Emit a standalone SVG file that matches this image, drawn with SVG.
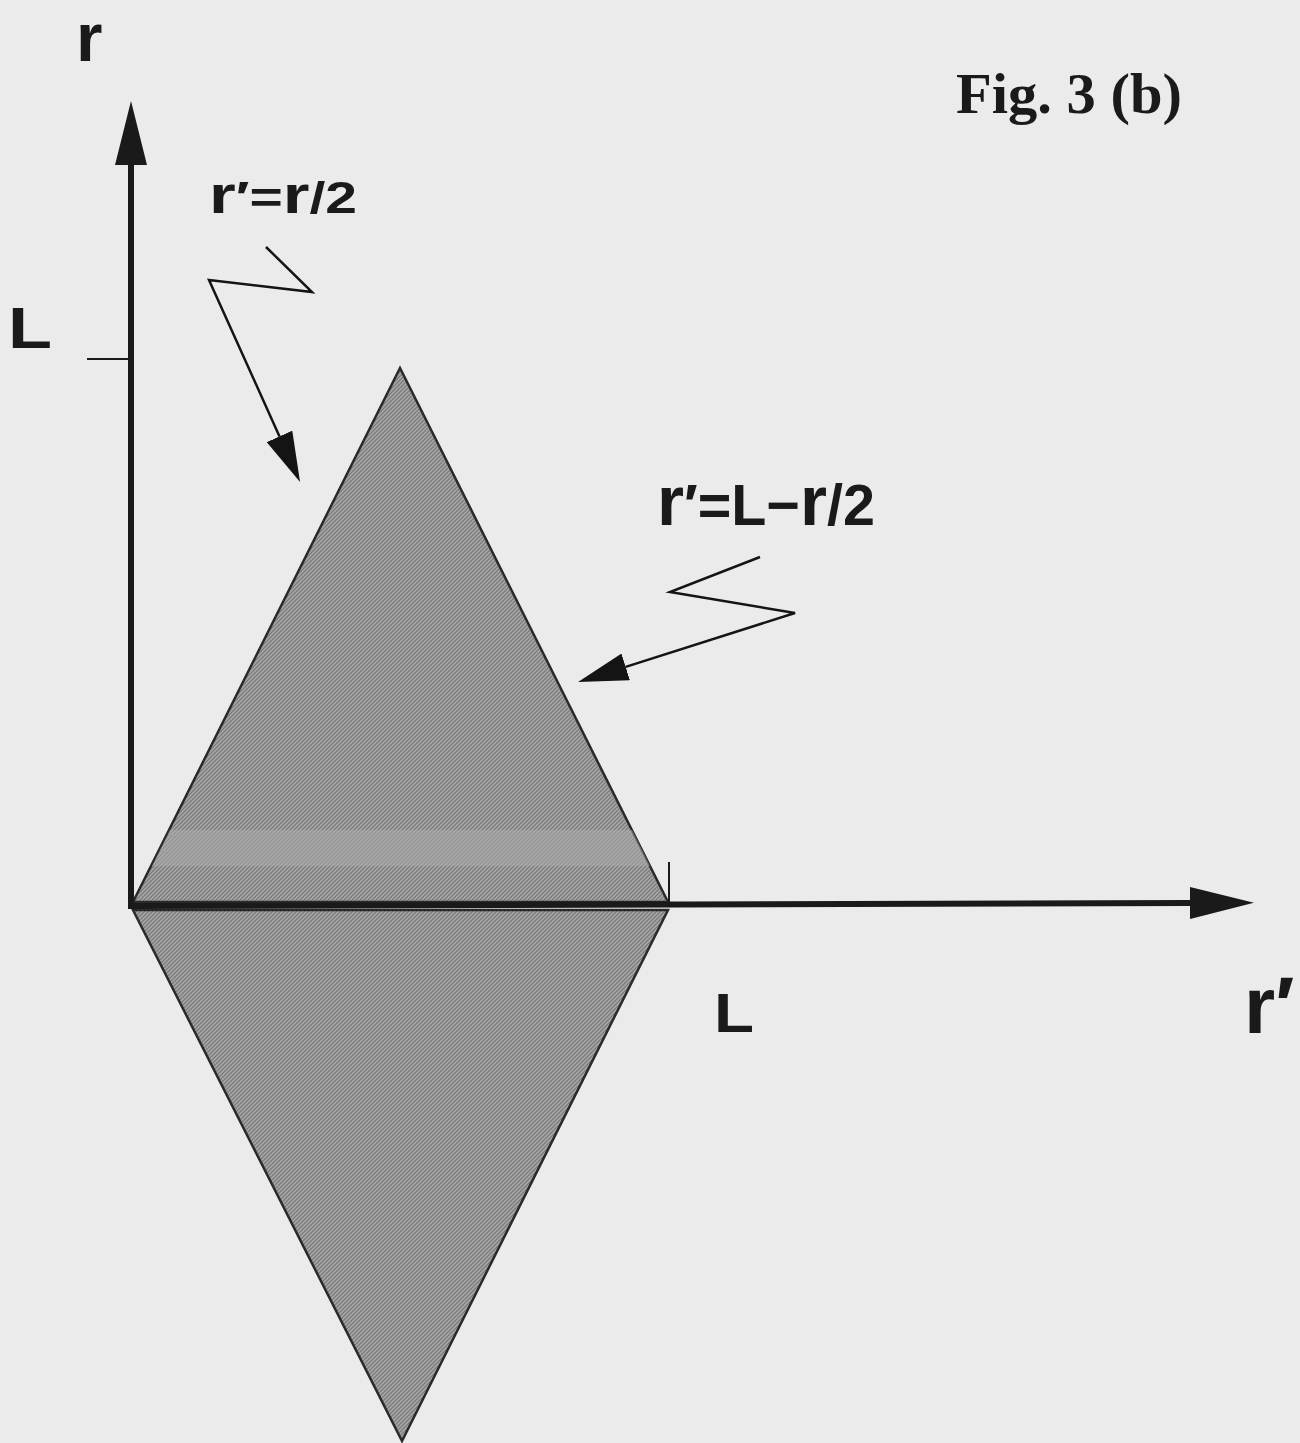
<svg xmlns="http://www.w3.org/2000/svg" width="1300" height="1443" viewBox="0 0 1300 1443">
<defs>
<style>
.bg{fill:#ebebeb}
.tri{fill:url(#hatch);stroke:#2a2a2a;stroke-width:2.5;stroke-linejoin:miter}
.axis{fill:none;stroke:#1a1a1a;stroke-width:6}
.tick{fill:none;stroke:#1a1a1a;stroke-width:2}
.ptr{fill:none;stroke:#141414;stroke-width:2.5;stroke-linejoin:miter}
.sans{font-family:"Liberation Sans",Arial,sans-serif;font-weight:bold;fill:#1a1a1a}
.serif{font-family:"Liberation Serif","Times New Roman",serif;font-weight:bold;fill:#1a1a1a}
</style>
<pattern id="hatch" width="4" height="4" patternUnits="userSpaceOnUse">
<rect width="4" height="4" fill="#a6a6a6"/>
<path d="M-1,1 L1,-1 M0,4 L4,0 M3,5 L5,3" stroke="#767676" stroke-width="1.2"/>
</pattern>
<marker id="axisHead" viewBox="0 0 64 32" refX="0" refY="16" markerWidth="64" markerHeight="32" markerUnits="userSpaceOnUse" orient="auto">
<path d="M0,0 L64,16 L0,32 z" fill="#1a1a1a"/>
</marker>
<marker id="ptrHead" viewBox="0 0 50 28" refX="0" refY="14" markerWidth="50" markerHeight="28" markerUnits="userSpaceOnUse" orient="auto">
<path d="M0,0 L50,14 L0,28 z" fill="#141414"/>
</marker>
</defs>
<rect class="bg" x="0" y="0" width="1300" height="1443"/>
<g id="region">
<polygon class="tri" points="400,368 668,902 133,902"/>
<polygon points="170,830 632,830 650,866 152,866" fill="#acacac" opacity="0.5"/>
<polygon class="tri" points="133,910 668,910 402,1441"/>
</g>
<g id="axes">
<line class="axis" x1="131" y1="908" x2="131" y2="165" marker-end="url(#axisHead)"/>
<line class="axis" x1="128" y1="906" x2="1190" y2="903" marker-end="url(#axisHead)"/>
<line class="tick" x1="87" y1="359" x2="131" y2="359"/>
<line class="tick" x1="669" y1="862" x2="669" y2="904"/>
</g>
<g id="connectors">
<polyline class="ptr" points="266,247 312,292 209,280 279.5,436.4" marker-end="url(#ptrHead)"/>
<polyline class="ptr" points="760,557 670,592 795,613 625.7,666.9" marker-end="url(#ptrHead)"/>
</g>
<g id="labels">
<text class="sans" x="76" y="61" font-size="68">r</text>
<text class="sans" x="8" y="348" font-size="57" textLength="44" lengthAdjust="spacingAndGlyphs">L</text>
<text class="sans" x="209" y="213" font-size="44" textLength="148" lengthAdjust="spacingAndGlyphs"><tspan font-size="53">r</tspan>′=<tspan font-size="53">r</tspan>/2</text>
<text class="sans" x="657" y="525" font-size="58" textLength="218" lengthAdjust="spacingAndGlyphs"><tspan font-size="70">r</tspan>′=L−<tspan font-size="70">r</tspan>/2</text>
<text class="sans" x="714" y="1032" font-size="56" textLength="40" lengthAdjust="spacingAndGlyphs">L</text>
<text class="sans" x="1244" y="1033" font-size="80">r′</text>
<text class="serif" x="956" y="113" font-size="57" textLength="226" lengthAdjust="spacingAndGlyphs">Fig. 3 (b)</text>
</g>
</svg>
